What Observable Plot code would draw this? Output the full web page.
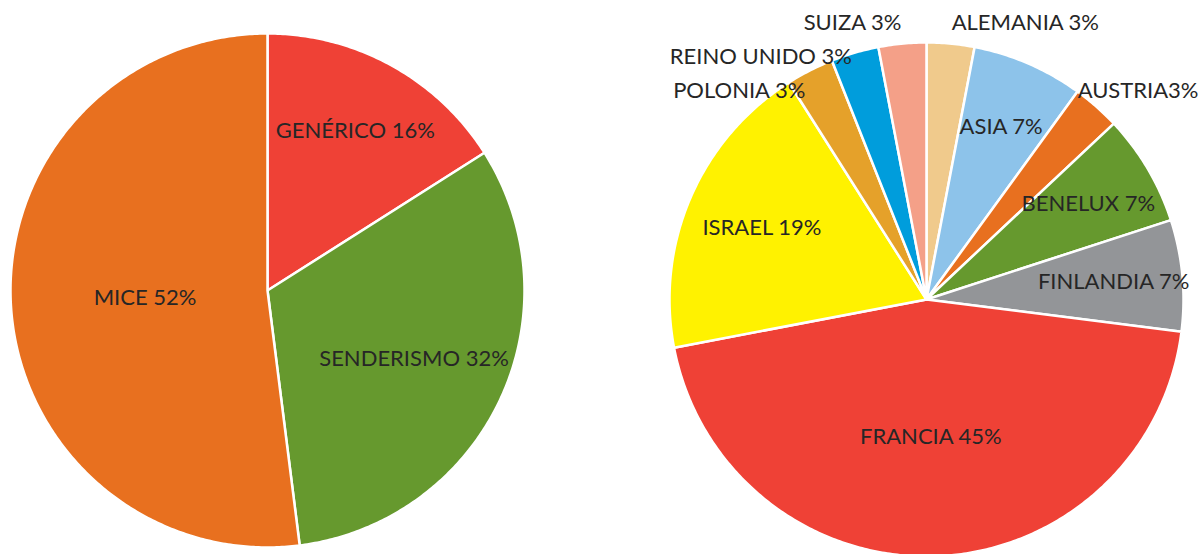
<!DOCTYPE html>
<html>
<head>
<meta charset="utf-8">
<script src="https://cdn.jsdelivr.net/npm/d3@7"></script>
<script src="https://cdn.jsdelivr.net/npm/@observablehq/plot@0.6"></script>
<style>
  html, body { margin: 0; padding: 0; background: #ffffff; }
</style>
</head>
<body>
<div id="chart"></div>
<script>
// ---- Data ----
const leftCategories = ["GENÉRICO", "SENDERISMO", "MICE"];
const leftValues = [16, 32, 52];
const leftLabels = ["GENÉRICO 16%", "SENDERISMO 32%", "MICE 52%"];
const leftColors = ["#EF4136", "#66992E", "#E8701F"];

const rightCategories = ["ALEMANIA", "ASIA", "AUSTRIA", "BENELUX", "FINLANDIA", "FRANCIA", "ISRAEL", "POLONIA", "REINO UNIDO", "SUIZA"];
const rightValues = [3, 7, 3, 7, 7, 45, 19, 3, 3, 3];
const rightLabels = ["ALEMANIA 3%", "ASIA 7%", "AUSTRIA3%", "BENELUX 7%", "FINLANDIA 7%", "FRANCIA 45%", "ISRAEL 19%", "POLONIA 3%", "REINO UNIDO 3%", "SUIZA 3%"];
const rightColors = ["#F0CA8C", "#8DC3EA", "#E8701F", "#66992E", "#939598", "#EF4136", "#FFF200", "#E5A12A", "#009DDC", "#F4A088"];

// ---- Layout ----
const W = 1202, H = 554, R = 257;
const FONT = "Lato";
const FONT_SIZE = 22;
const pies = [
  {cx: 267, cy: 290, cats: leftCategories, vals: leftValues, labs: leftLabels},
  {cx: 926, cy: 299, cats: rightCategories, vals: rightValues, labs: rightLabels}
];

const ctx = document.createElement("canvas").getContext("2d");
ctx.font = `${FONT_SIZE}px ${FONT}`;
const textWidth = (s) => ctx.measureText(s).width;

const slicePts = [];
const labels = [];
pies.forEach((p) => {
  const total = d3.sum(p.vals);
  const arcs = d3.pie().sort(null).value((d) => d)(p.vals);
  const outside = [];
  arcs.forEach((a, i) => {
    const cat = p.cats[i];
    const span = a.endAngle - a.startAngle;
    const steps = Math.max(2, Math.ceil(span / 0.01));
    slicePts.push({cat, x: p.cx, y: p.cy});
    for (let s = 0; s <= steps; s++) {
      const t = a.startAngle + span * s / steps;
      slicePts.push({cat, x: p.cx + R * Math.sin(t), y: p.cy - R * Math.cos(t)});
    }
    slicePts.push({cat, x: p.cx, y: p.cy});

    const mid = (a.startAngle + a.endAngle) / 2;
    const share = p.vals[i] / total;
    if (share >= 0.05) {
      const alpha = span / 2;
      const rc = (2 * R * Math.sin(alpha)) / (3 * alpha) + 18;
      labels.push({text: p.labs[i], x: p.cx + rc * Math.sin(mid), y: p.cy - rc * Math.cos(mid), anchor: "middle"});
    } else {
      const ro = R + 10;
      outside.push({
        text: p.labs[i],
        x: p.cx + ro * Math.sin(mid),
        y: p.cy - ro * Math.cos(mid) - (FONT_SIZE / 2) * Math.cos(mid),
        anchor: mid > Math.PI ? "end" : "start"
      });
    }
  });
  // resolve overlaps per side
  ["start", "end"].forEach((side) => {
    const group = outside.filter((d) => d.anchor === side).sort((a, b) => a.y - b.y);
    for (let k = 1; k < group.length; k++) {
      if (group[k].y < group[k - 1].y + FONT_SIZE + 12) group[k].y = group[k - 1].y + FONT_SIZE + 12;
    }
    group.forEach((d) => {
      const w = textWidth(d.text);
      if (d.anchor === "start" && d.x + w > W - 4) d.x = W - 4 - w;
      if (d.anchor === "end" && d.x - w < 4) d.x = 4 + w;
      labels.push(d);
    });
  });
});

const textOpts = {x: "x", y: "y", text: "text", fontSize: FONT_SIZE, fontFamily: FONT, fill: "#262626", lineAnchor: "middle"};

const chart = Plot.plot({
  width: W,
  height: H,
  margin: 0,
  x: {domain: [0, W], range: [0, W], axis: null},
  y: {domain: [0, H], range: [0, H], axis: null},
  color: {domain: [...leftCategories, ...rightCategories], range: [...leftColors, ...rightColors]},
  style: {background: "#ffffff", fontFamily: FONT},
  marks: [
    Plot.line(slicePts, {x: "x", y: "y", z: "cat", fill: "cat", stroke: "#ffffff", strokeWidth: 2.5, strokeLinejoin: "round", curve: "linear"}),
    Plot.text(labels.filter((d) => d.anchor === "middle"), {...textOpts, textAnchor: "middle"}),
    Plot.text(labels.filter((d) => d.anchor === "start"), {...textOpts, textAnchor: "start"}),
    Plot.text(labels.filter((d) => d.anchor === "end"), {...textOpts, textAnchor: "end"})
  ]
});
document.getElementById("chart").appendChild(chart);
</script>
</body>
</html>
